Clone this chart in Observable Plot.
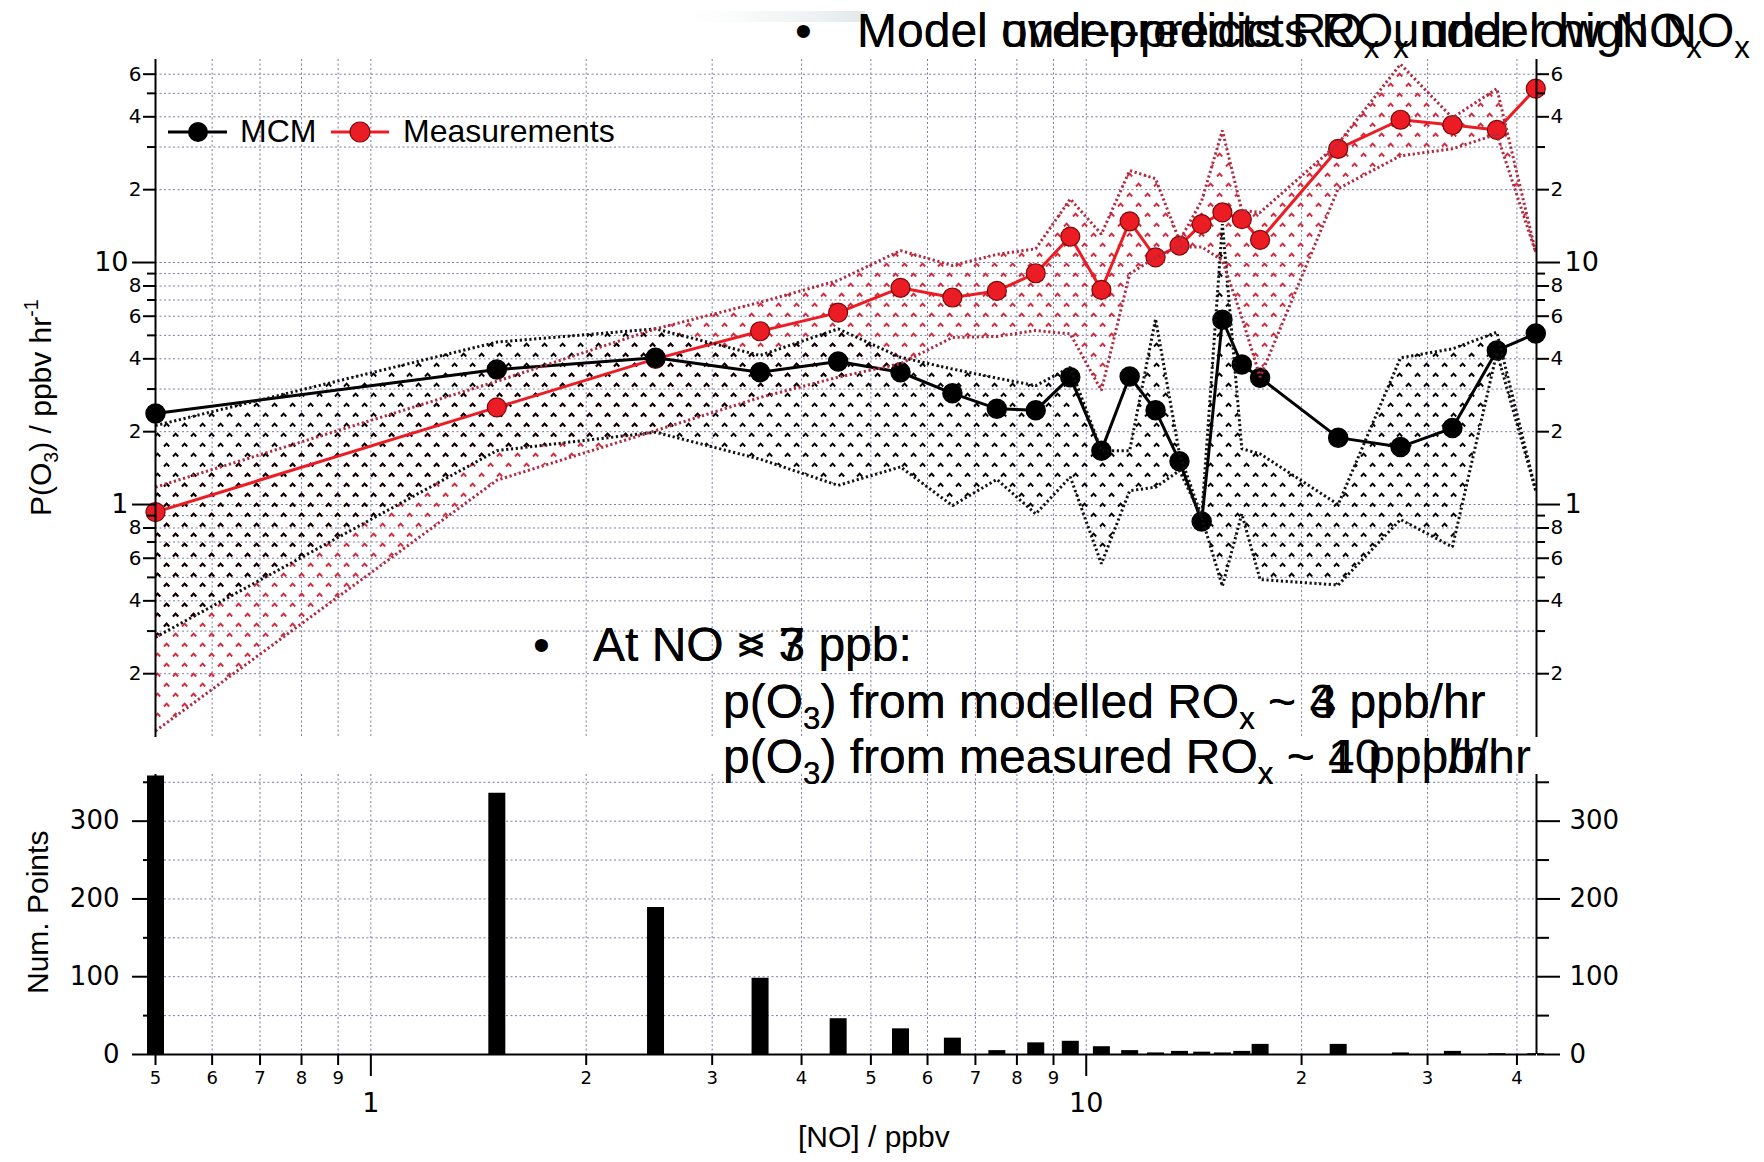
<!DOCTYPE html>
<html>
<head>
<meta charset="utf-8">
<script src="https://cdn.jsdelivr.net/npm/d3@7"></script>
<script src="https://cdn.jsdelivr.net/npm/@observablehq/plot@0.6"></script>
<style>
html, body { margin: 0; padding: 0; background: #fff; overflow: hidden; }
#wrap { position: relative; width: 1764px; height: 1162px; overflow: hidden; background: #fff; }
#wrap > svg { position: absolute; left: 0; max-width: none; }
</style>
</head>
<body>
<div id="wrap"></div>
<script>
// ---------------- data ----------------
const noBins = [0.5, 1.5, 2.5, 3.5, 4.5, 5.5, 6.5, 7.5, 8.5, 9.5, 10.5, 11.5, 12.5, 13.5, 14.5, 15.5, 16.5, 17.5, 22.5, 27.5, 32.5, 37.5, 42.5];
const mcm      = [2.38, 3.61, 4.04, 3.52, 3.90, 3.52, 2.88, 2.49, 2.45, 3.36, 1.67, 3.38, 2.45, 1.51, 0.85, 5.80, 3.79, 3.34, 1.89, 1.73, 2.07, 4.33, 5.09];
const mcmHigh  = [2.12, 4.69, 5.32, 4.13, 5.32, 4.06, 3.63, 3.33, 3.10, 3.69, 1.67, 1.67, 5.85, 1.62, 0.89, 14.4, 1.70, 1.62, 1.00, 4.04, 4.40, 5.15, 1.14];
const mcmLow   = [0.283, 1.67, 1.99, 1.54, 1.20, 1.43, 0.99, 1.27, 0.915, 1.30, 0.569, 1.14, 1.18, 1.38, 0.887, 0.46, 0.915, 0.49, 0.465, 0.867, 0.668, 4.25, 1.14];
const meas     = [0.93, 2.52, 4.0, 5.2, 6.21, 7.86, 7.17, 7.63, 9.03, 12.8, 7.71, 14.8, 10.5, 11.75, 14.4, 16.1, 15.1, 12.4, 29.5, 38.9, 37.0, 35.3, 52.3];
const measHigh = [1.18, 3.23, 5.32, 6.85, 8.43, 11.2, 9.72, 10.8, 11.4, 18.3, 13.1, 24.0, 22.2, 12.3, 18.0, 35.1, 16.4, 16.1, 31.0, 66.0, 39.6, 52.3, 11.0];
const measLow  = [0.116, 1.26, 2.02, 2.77, 3.36, 3.82, 4.9, 4.95, 5.24, 5.07, 2.96, 8.98, 10.5, 11.6, 11.6, 10.2, 5.94, 3.36, 20.2, 27.6, 29.5, 33.9, 11.0];
const counts   = [358, 336, 189, 98, 46, 33, 21, 5, 15, 17, 10, 5, 2, 4, 3, 2, 4, 13, 13, 2, 4, 1, 1];

// tick values
const xDomain = [0.5, 42.6];
const yDomainTop = [0.109, 69];
const yDomainBottom = [0, 360];
const yDecade = [1, 10];
const yLabeled = [0.2, 0.4, 0.6, 0.8, 2, 4, 6, 8, 20, 40, 60];
const yMinor = [0.3, 0.5, 0.7, 0.9, 3, 5, 7, 9, 30, 50];
const xGrid = [0.6, 0.7, 0.8, 0.9, 1, 2, 3, 4, 5, 6, 7, 8, 9, 10, 20, 30, 40];
const xDecade = [1, 10];
const xLabeled = [0.5, 0.6, 0.7, 0.8, 0.9, 2, 3, 4, 5, 6, 7, 8, 9, 20, 30, 40];
const countMajor = [0, 100, 200, 300];
const countMinor = [50, 150, 250, 350];

const rows = noBins.map((x, i) => ({
  x, mcm: mcm[i], mcmHi: mcmHigh[i], mcmLo: mcmLow[i],
  meas: meas[i], measHi: measHigh[i], measLo: measLow[i], n: counts[i]
}));

// ---------------- styles ----------------
const GRID = {stroke: "#7a7aa0", strokeDasharray: "2,2.5", strokeWidth: 1};
const RED = "#ec1c24";
const RED_EDGE = "#b02a40";
const TICKFONT = "'DejaVu Sans', Verdana, sans-serif";
const DOT = {strokeWidth: 3, strokeDasharray: "2.2,2.6", strokeLinecap: "butt", strokeLinejoin: "miter"};
const lead = d => { const e = Math.floor(Math.log10(d) + 1e-9); return String(Math.round(d / Math.pow(10, e))); };
const ax = (o) => Object.assign({label: null, strokeWidth: 2, fontFamily: TICKFONT}, o);

// ---------------- top panel ----------------
const topPlot = Plot.plot({
  width: 1764, height: 770,
  marginLeft: 155, marginRight: 228, marginTop: 59, marginBottom: 33,
  style: {fontFamily: TICKFONT, color: "#000", background: "transparent", overflow: "visible"},
  x: {type: "log", domain: xDomain, axis: null},
  y: {type: "log", domain: yDomainTop},
  marks: [
    Plot.ruleY([...yDecade, ...yLabeled, ...yMinor], GRID),
    Plot.ruleX(xGrid, GRID),
    Plot.areaY(rows, {x: "x", y1: "measLo", y2: "measHi", fill: "url(#patR)"}),
    Plot.areaY(rows, {x: "x", y1: "mcmLo", y2: "mcmHi", fill: "url(#patK)"}),
    Plot.line(rows, {x: "x", y: "meas", stroke: RED, strokeWidth: 3}),
    Plot.dot(rows, {x: "x", y: "meas", r: 9.5, fill: RED, stroke: "#7a0a0a", strokeWidth: 1.2}),
    Plot.line(rows, {x: "x", y: "mcm", stroke: "#000", strokeWidth: 3}),
    Plot.dot(rows, {x: "x", y: "mcm", r: 9.5, fill: "#000", stroke: "#000"}),
    Plot.line(rows, {x: "x", y: "mcmHi", stroke: "#111", ...DOT}),
    Plot.line(rows, {x: "x", y: "mcmLo", stroke: "#111", ...DOT}),
    Plot.line(rows, {x: "x", y: "measHi", stroke: RED_EDGE, ...DOT}),
    Plot.line(rows, {x: "x", y: "measLo", stroke: RED_EDGE, ...DOT}),
    Plot.ruleX(xDomain, {stroke: "#000", strokeWidth: 2}),
    Plot.axisY(yDecade, ax({anchor: "left", tickSize: 23, tickPadding: 4, fontSize: 27, tickFormat: d => String(d)})),
    Plot.axisY(yLabeled, ax({anchor: "left", tickSize: 12, tickPadding: 2, fontSize: 20, tickFormat: lead})),
    Plot.axisY(yMinor, ax({anchor: "left", tickSize: 8, tickFormat: () => ""})),
    Plot.axisY(yDecade, ax({anchor: "right", tickSize: 23, tickPadding: 5, fontSize: 27, tickFormat: d => String(d)})),
    Plot.axisY(yLabeled, ax({anchor: "right", tickSize: 12, tickPadding: 2, fontSize: 20, tickFormat: lead})),
    Plot.axisY(yMinor, ax({anchor: "right", tickSize: 8, tickFormat: () => ""}))
  ]
});
topPlot.style.top = "0px";

// hatch patterns (small chevrons on a staggered grid)
const defs = d3.select(topPlot).insert("defs", ":first-child");
[["patK", "#000"], ["patR", "#d22a3e"]].forEach(([id, col]) => {
  const p = defs.append("pattern").attr("id", id).attr("patternUnits", "userSpaceOnUse")
    .attr("width", 18).attr("height", 20);
  p.append("path").attr("d", "M2,6.5 L4.6,3.6 L7.2,6.5 M11,16.5 L13.6,13.6 L16.2,16.5")
    .attr("fill", "none").attr("stroke", col).attr("stroke-width", 1.9);
});

// ---------------- bottom panel ----------------
const bottomPlot = Plot.plot({
  width: 1764, height: 392,
  marginLeft: 155, marginRight: 228, marginTop: 4, marginBottom: 108,
  style: {fontFamily: TICKFONT, color: "#000", background: "transparent", overflow: "visible"},
  x: {type: "log", domain: xDomain},
  y: {domain: yDomainBottom},
  marks: [
    Plot.ruleY([...countMinor, ...countMajor.filter(d => d > 0)], GRID),
    Plot.ruleX(xGrid, GRID),
    Plot.ruleX(rows, {x: "x", y1: 0, y2: "n", stroke: "#000", strokeWidth: 17}),
    Plot.ruleY([0], {stroke: "#000", strokeWidth: 2}),
    Plot.ruleX(xDomain, {stroke: "#000", strokeWidth: 2}),
    Plot.axisY(countMajor, ax({anchor: "left", tickSize: 23, tickPadding: 13, fontSize: 26, tickFormat: d => String(d)})),
    Plot.axisY(countMinor, ax({anchor: "left", tickSize: 12, tickFormat: () => ""})),
    Plot.axisY(countMajor, ax({anchor: "right", tickSize: 23, tickPadding: 10, fontSize: 26, tickFormat: d => String(d)})),
    Plot.axisY(countMinor, ax({anchor: "right", tickSize: 12, tickFormat: () => ""})),
    Plot.axisX(xLabeled, ax({anchor: "bottom", tickSize: 11, tickPadding: 6, fontSize: 18, tickFormat: lead})),
    Plot.axisX(xDecade, ax({anchor: "bottom", tickSize: 22, tickPadding: 16, fontSize: 27, tickFormat: d => String(d)}))
  ]
});
bottomPlot.style.top = "770px";

const wrap = document.getElementById("wrap");
wrap.appendChild(topPlot);
wrap.appendChild(bottomPlot);

// ---------------- overlay: labels, legend, slide text ----------------
const ov = d3.select(wrap).append("svg")
  .attr("width", 1764).attr("height", 1162)
  .style("top", "0px").style("pointer-events", "none");
const SANS = "'Liberation Sans', Arial, Helvetica, sans-serif";

function rich(g, x, y, size, parts, attrs = {}) {
  const t = g.append("text").attr("x", x).attr("y", y)
    .attr("font-size", size).attr("font-family", SANS).attr("fill", "#000");
  for (const k in attrs) t.attr(k, attrs[k]);
  let pending = 0;
  for (const [s, kind] of parts) {
    const ts = t.append("tspan").text(s);
    if (kind) {
      const dy = kind === "sub" ? size * 0.22 : -size * 0.42;
      ts.attr("dy", pending + dy).attr("font-size", size * 0.65);
      pending = -dy;
    } else {
      if (pending) ts.attr("dy", pending);
      pending = 0;
    }
  }
  return t;
}

// faint slide artefact above the title
const grad = ov.append("defs").append("linearGradient").attr("id", "fade");
grad.append("stop").attr("offset", "0").attr("stop-color", "#eef2f2").attr("stop-opacity", 0);
grad.append("stop").attr("offset", "1").attr("stop-color", "#e2e9e9").attr("stop-opacity", 1);
ov.append("rect").attr("x", 690).attr("y", 11).attr("width", 175).attr("height", 11).attr("fill", "url(#fade)");

// slide bullet texts (two overlapping animation states, as in the reference)
rich(ov, 795, 47, 48, [["\u2022"]]);
rich(ov, 857, 47, 48, [["Model under-predicts RO"], ["x", "sub"], [" under high NO"], ["x", "sub"]]);
rich(ov, 857, 47, 48, [["Model over-predicts RO"], ["x", "sub"], [" under low NO"], ["x", "sub"]]);

rich(ov, 533, 661, 48, [["\u2022"]]);
rich(ov, 593, 661, 48, [["At NO < 3 ppb:"]]);
rich(ov, 593, 661, 48, [["At NO > 7 ppb:"]]);
rich(ov, 723, 718, 48, [["p(O"], ["3", "sub"], [") from modelled RO"], ["x", "sub"], [" ~ 4 ppb/hr"]]);
rich(ov, 723, 718, 48, [["p(O"], ["3", "sub"], [") from modelled RO"], ["x", "sub"], [" ~ 3 ppb/hr"]]);
rich(ov, 723, 773, 48, [["p(O"], ["3", "sub"], [") from measured RO"], ["x", "sub"], [" ~ 4 ppb/hr"]]);
rich(ov, 723, 773, 48, [["p(O"], ["3", "sub"], [") from measured RO"], ["x", "sub"], [" ~ 10 ppb/hr"]]);

// axis titles
rich(ov, 0, 0, 30, [["P(O"], ["3", "sub"], [") / ppbv hr"], ["-1", "sup"]], {transform: "translate(51,516) rotate(-90)"});
rich(ov, 0, 0, 30, [["Num. Points"]], {transform: "translate(48,994) rotate(-90)"});
rich(ov, 798, 1147, 30, [["[NO] / ppbv"]]);

// legend
const lg = ov.append("g");
lg.append("line").attr("x1", 168).attr("x2", 227).attr("y1", 132).attr("y2", 132).attr("stroke", "#000").attr("stroke-width", 3);
lg.append("circle").attr("cx", 198).attr("cy", 132).attr("r", 10).attr("fill", "#000");
rich(lg, 240, 142, 32, [["MCM"]]);
lg.append("line").attr("x1", 331).attr("x2", 389).attr("y1", 132).attr("y2", 132).attr("stroke", RED).attr("stroke-width", 3);
lg.append("circle").attr("cx", 360).attr("cy", 132).attr("r", 10).attr("fill", RED).attr("stroke", "#7a0a0a").attr("stroke-width", 1.2);
rich(lg, 403, 142, 32, [["Measurements"]]);
</script>
</body>
</html>
